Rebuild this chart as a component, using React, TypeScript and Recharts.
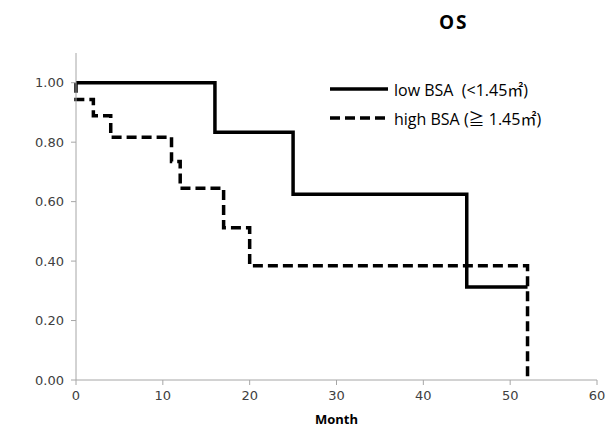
import { LineChart, Line, XAxis, YAxis } from "recharts";

// Kaplan-Meier style survival steps (month, survival)
const lowMonths = [0, 16, 25, 45, 52];
const lowSurv = [1.0, 0.833, 0.625, 0.3125, 0.3125];

const highMonths = [0, 0, 2, 4, 11, 12, 17, 20, 52];
const highSurv = [1.0, 0.944, 0.889, 0.817, 0.735, 0.645, 0.512, 0.384, 0];

const xTicks = [0, 10, 20, 30, 40, 50, 60];
const yTicks = [0, 0.2, 0.4, 0.6, 0.8, 1.0];

const SERIES = [
  { name: "low BSA  (<1.45㎡)", dash: undefined },
  { name: "high BSA (≧ 1.45㎡)", dash: "10 5" },
];

const lowData = lowMonths.map((m, i) => ({ month: m, surv: lowSurv[i] }));
const highData = highMonths.map((m, i) => ({ month: m, surv: highSurv[i] }));

const tickStyle = { fontFamily: "DejaVu Sans", fontSize: 13, fill: "#404040" };

const LegendBox = () => (
  <div
    style={{
      position: "absolute",
      left: 330,
      top: 74,
      fontFamily: "'Open Sans', 'Noto Sans CJK JP'",
      fontSize: 16,
      color: "#000",
    }}
  >
    {SERIES.map((s, i) => (
      <div key={i} style={{ display: "flex", alignItems: "center", height: 29 }}>
        <svg width={60} height={10}>
          <line
            x1={0}
            y1={5}
            x2={58}
            y2={5}
            stroke="#000"
            strokeWidth={3.5}
            strokeDasharray={s.dash}
          />
        </svg>
        <span style={{ marginLeft: 4, whiteSpace: "pre" }}>{s.name}</span>
      </div>
    ))}
  </div>
);

export default function App() {
  return (
    <div style={{ position: "absolute", left: 0, top: 0, width: 610, height: 434, background: "#fff" }}>
      <LineChart width={610} height={434} margin={{ top: 53, right: 13, left: 0, bottom: 0 }}>
        <XAxis
          type="number"
          dataKey="month"
          domain={[0, 60]}
          ticks={xTicks}
          stroke="#a6a6a6"
          tickSize={5}
          tickMargin={6}
          tick={tickStyle}
          height={54}
          allowDuplicatedCategory={false}
          label={{
            value: "Month",
            position: "insideBottom",
            offset: 10,
            style: { fontFamily: "Open Sans", fontWeight: "bold", fontSize: 13, fill: "#000" },
          }}
        />
        <YAxis
          type="number"
          domain={[0, 1.1]}
          ticks={yTicks}
          stroke="#a6a6a6"
          tickSize={5}
          tickMargin={7}
          tick={tickStyle}
          width={76}
          tickFormatter={(v: number) => v.toFixed(2)}
        />
        <Line
          data={lowData}
          dataKey="surv"
          name={SERIES[0].name}
          type="stepAfter"
          stroke="#000"
          strokeWidth={3.5}
          dot={false}
          isAnimationActive={false}
        />
        <Line
          data={highData}
          dataKey="surv"
          name={SERIES[1].name}
          type="stepAfter"
          stroke="#000"
          strokeWidth={3.5}
          strokeDasharray="10 5"
          dot={false}
          isAnimationActive={false}
        />
      </LineChart>
      <div
        style={{
          position: "absolute",
          left: 439,
          top: 9,
          fontFamily: "Open Sans",
          fontWeight: "bold",
          fontSize: 19,
          letterSpacing: 2,
        }}
      >
        OS
      </div>
      <LegendBox />
    </div>
  );
}
